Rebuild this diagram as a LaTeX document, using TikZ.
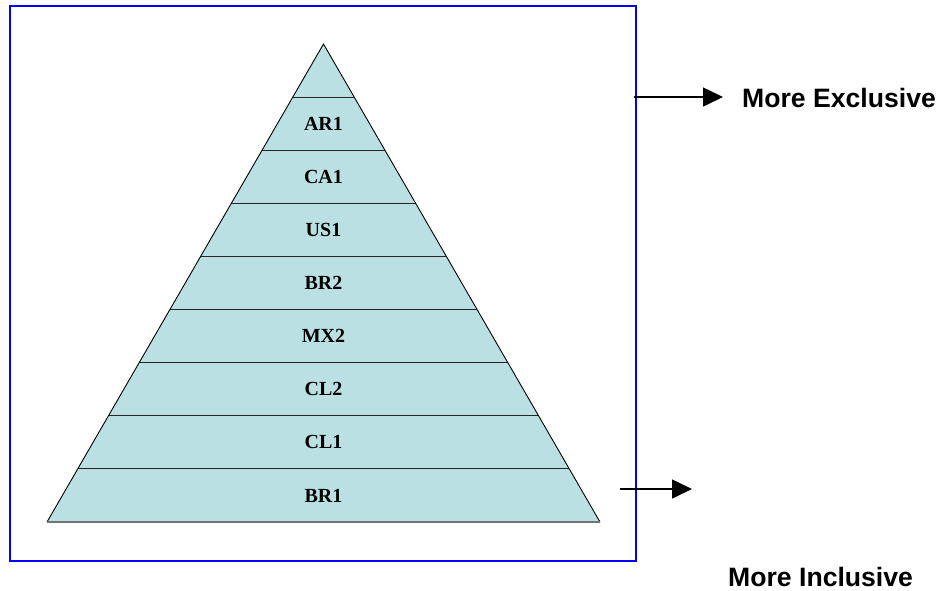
\documentclass[tikz,border=0pt]{standalone}
\usepackage{fontspec}
\setmainfont{Liberation Serif}
\newfontfamily\labelsans{Liberation Sans}
\usetikzlibrary{arrows.meta}
\definecolor{bandfill}{HTML}{BAE0E3}
\definecolor{framecol}{HTML}{0000FF}
\tikzset{
  band label/.style={font=\bfseries\fontsize{20}{23}\selectfont, inner sep=0pt},
  side label/.style={font=\labelsans\bfseries\fontsize{26.6}{30}\selectfont, inner sep=0pt},
  pointer/.style={line width=1.6pt, -{Triangle[length=20pt,width=19pt]}},
}
\begin{document}
\begin{tikzpicture}[x=1pt,y=-1pt]
  \useasboundingbox (0,0) rectangle (938,590);
  % frame
  \draw[framecol, line width=2pt] (10,6) rectangle (636,561);
  % pyramid
  \coordinate (apex) at (323.5,44);
  \coordinate (bl) at (47,522);
  \coordinate (br) at (600,522);
  \fill[bandfill] (apex) -- (bl) -- (br) -- cycle;
  % band divisions
  \foreach \k in {1,...,8} {
    \pgfmathsetmacro{\yy}{44+\k*53.111}
    \pgfmathsetmacro{\hw}{(\yy-44)/478*276.5}
    \draw[line width=0.9pt, black!85] (323.5-\hw,\yy) -- (323.5+\hw,\yy);
  }
  \draw[line width=0.9pt] (bl) -- (apex) -- (br);
  \draw[line width=1.2pt, black!55] (bl) -- (br);
  % level labels
  \foreach \name [count=\k] in {AR1,CA1,US1,BR2,MX2,CL2,CL1,BR1} {
    \pgfmathsetmacro{\yy}{44+(\k+0.5)*53.111}
    \node[band label] (lab\name) at (323.5,\yy) {\name};
  }
  % side pointers
  \coordinate (topfrom) at (634,97);
  \coordinate (topto) at (723,97);
  \coordinate (botfrom) at (620,489);
  \coordinate (botto) at (692,489);
  \draw[pointer] (topfrom) -- (topto);
  \draw[pointer] (botfrom) -- (botto);
  \node[side label, anchor=west] (excl) at (742,98) {More Exclusive};
  \node[side label, anchor=west] (incl) at (728,577) {More Inclusive};
\end{tikzpicture}
\end{document}
